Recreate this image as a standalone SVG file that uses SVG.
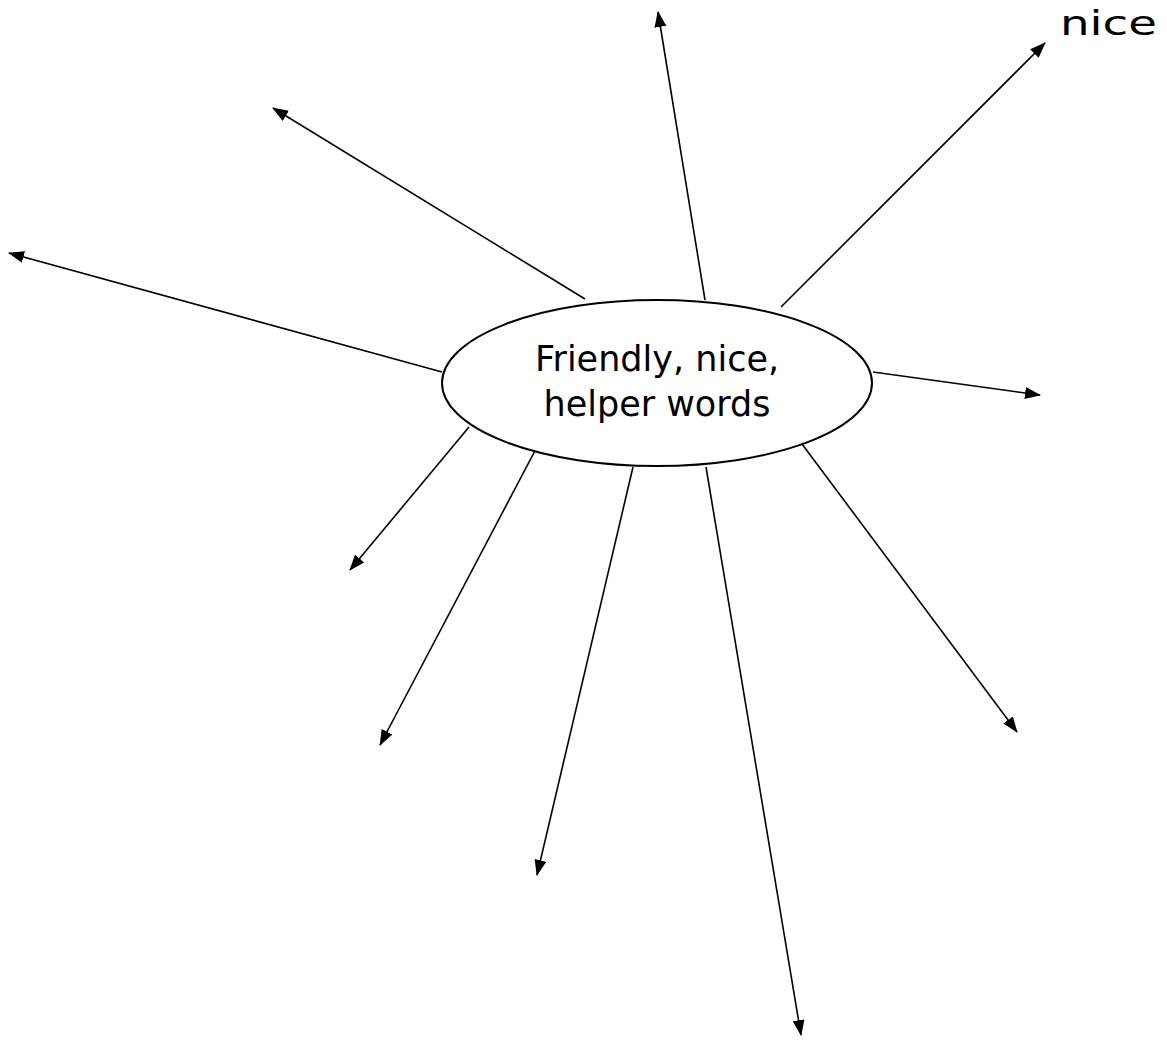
<svg xmlns="http://www.w3.org/2000/svg" width="1167" height="1043" viewBox="0 0 1167 1043">
  <style>
    .conn { stroke: #000; stroke-width: 1.6; fill: none; marker-end: url(#arrow); }
    .node { fill: #fff; stroke: #000; stroke-width: 2; }
    .label { font-family: "DejaVu Sans", Verdana, sans-serif; fill: #000; }
  </style>
  <defs>
    <marker id="arrow" viewBox="0 0 16 12" refX="15" refY="6" markerWidth="16" markerHeight="12" orient="auto" markerUnits="userSpaceOnUse">
      <path d="M0,0 L16,6 L0,12 z" fill="#000"/>
    </marker>
  </defs>
  <rect width="1167" height="1043" fill="#fff"/>
  <g id="connectors">
    <line class="conn" x1="585" y1="299" x2="273" y2="108"/>
    <line class="conn" x1="705" y1="300" x2="658" y2="12"/>
    <line class="conn" x1="781" y1="307" x2="1045" y2="43"/>
    <line class="conn" x1="442" y1="372" x2="9" y2="253"/>
    <line class="conn" x1="873" y1="372" x2="1040" y2="395"/>
    <line class="conn" x1="469" y1="427" x2="350" y2="570"/>
    <line class="conn" x1="537" y1="447" x2="380" y2="745"/>
    <line class="conn" x1="633" y1="467" x2="537" y2="875"/>
    <line class="conn" x1="706" y1="467" x2="801" y2="1035"/>
    <line class="conn" x1="802" y1="444" x2="1017" y2="732"/>
  </g>
  <g id="center-node">
    <ellipse class="node" cx="657" cy="383" rx="215" ry="83"/>
    <text class="label" x="657" y="371" font-size="35" text-anchor="middle">Friendly, nice,</text>
    <text class="label" x="657" y="416" font-size="35" text-anchor="middle">helper words</text>
  </g>
  <g id="label-nice">
    <text class="label" x="1060" y="35" font-size="33" textLength="97" lengthAdjust="spacingAndGlyphs">nice</text>
  </g>
</svg>
